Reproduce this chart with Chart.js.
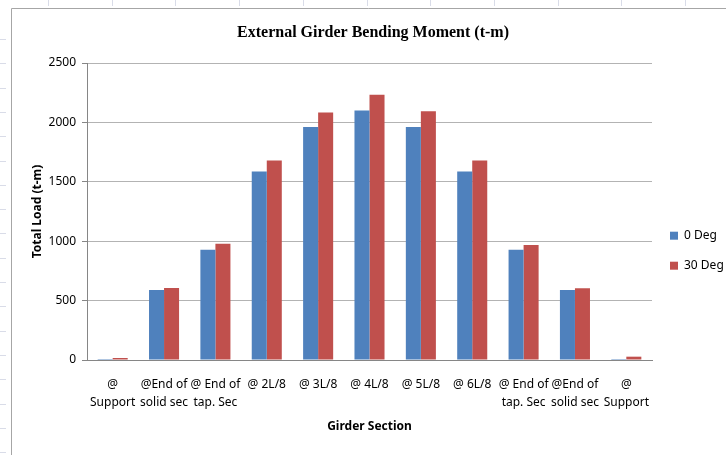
<!DOCTYPE html>
<html>
<head>
<meta charset="utf-8">
<script src="https://cdn.jsdelivr.net/npm/chart.js@4"></script>
<style>
    html, body { margin: 0; padding: 0; background: #fff; }
    #wrap { width: 726px; height: 455px; }
</style>
</head>
<body>
<div id="wrap"><canvas id="girder-chart" width="726" height="455"></canvas></div>
<script>
// データ ==========================================================
const SECTIONS = [
    ["@", "Support"],
    ["@End of", "solid sec"],
    ["@ End of", "tap. Sec"],
    "@ 2L/8",
    "@ 3L/8",
    "@ 4L/8",
    "@ 5L/8",
    "@ 6L/8",
    ["@ End of", "tap. Sec"],
    ["@End of", "solid sec"],
    ["@", "Support"],
];
const DEG_0  = [8, 590, 927, 1587, 1961, 2101, 1961, 1587, 927, 590, 8];
const DEG_30 = [17, 607, 978, 1680, 2084, 2233, 2093, 1680, 969, 604, 28];
const Y_TICKS = [0, 500, 1000, 1500, 2000, 2500];

const FONT = "'Noto Sans', 'DejaVu Sans', sans-serif";

// 枠線 (Excel のシート枠)
const framePlugin = {
    id: 'frame',
    beforeDraw(chart) {
        const ctx = chart.ctx;
        ctx.save();
        ctx.fillStyle = '#fff';
        ctx.fillRect(0, 0, chart.width, chart.height);
        // sheet grid marks
        ctx.strokeStyle = '#d9dce8';
        ctx.lineWidth = 1;
        for (let x = 48; x < chart.width; x += 63.7) {
            ctx.beginPath();
            ctx.moveTo(Math.round(x) + 0.5, 0);
            ctx.lineTo(Math.round(x) + 0.5, 6);
            ctx.stroke();
        }
        for (let y = 39; y < chart.height; y += 24.3) {
            ctx.beginPath();
            ctx.moveTo(0, Math.round(y) + 0.5);
            ctx.lineTo(6, Math.round(y) + 0.5);
            ctx.stroke();
        }
        ctx.strokeStyle = '#a6a6a6';
        ctx.beginPath();
        ctx.moveTo(11.5, chart.height);
        ctx.lineTo(11.5, 8.5);
        ctx.lineTo(chart.width, 8.5);
        ctx.stroke();
        ctx.restore();
    }
};

const data = {
    labels: SECTIONS,
    datasets: [
        {
            label: '0 Deg',
            backgroundColor: '#4F81BD',
            data: DEG_0,
        },
        {
            label: '30 Deg',
            backgroundColor: '#C0504D',
            data: DEG_30,
        },
    ],
};

const config = {
    type: 'bar',
    data: data,
    plugins: [framePlugin],
    options: {
        responsive: false,
        animation: false,
        layout: {
            padding: { left: 20, right: 0, top: 0, bottom: 18 },
        },
        datasets: {
            bar: {
                categoryPercentage: 0.585,
                barPercentage: 1.0,
                borderWidth: 0,
            }
        },
        plugins: {
            title: {
                display: true,
                text: 'External Girder Bending Moment (t-m)',
                color: '#000',
                font: { family: "'Liberation Serif', 'DejaVu Serif', serif", size: 16, weight: 'bold' },
                padding: { top: 23.4, bottom: 20.4 },
            },
            legend: {
                position: 'right',
                maxWidth: 74,
                title: {
                    display: true,
                    text: ' ',
                    font: { family: FONT, size: 12 },
                    padding: { top: 25, bottom: 25 },
                },
                labels: {
                    boxWidth: 8,
                    boxHeight: 8,
                    padding: 18,
                    color: '#000',
                    font: { family: FONT, size: 12 },
                },
            },
            tooltip: { enabled: false },
        },
        scales: {
            x: {
                grid: { display: false },
                border: { display: true, color: '#868686', width: 1 },
                ticks: {
                    color: '#000',
                    padding: 7,
                    maxRotation: 0,
                    autoSkip: false,
                    font: { family: FONT, size: 12, lineHeight: 1.55 },
                },
                title: {
                    display: true,
                    text: 'Girder Section',
                    color: '#000',
                    font: { family: FONT, size: 12, weight: 'bold' },
                    padding: { top: 0, bottom: 2.8 },
                },
                afterFit(scale) { scale.height = 77; },
            },
            y: {
                min: 0,
                max: 2500,
                afterBuildTicks(scale) {
                    scale.ticks = Y_TICKS.map(v => ({ value: v }));
                },
                grid: {
                    color: '#b3b3b3',
                    tickColor: '#868686',
                    tickLength: 5,
                },
                border: { display: true, color: '#868686', width: 1 },
                ticks: {
                    color: '#000',
                    padding: 6,
                    font: { family: FONT, size: 12 },
                    callback: function(value) {
                        return String(value);
                    },
                },
                title: {
                    display: true,
                    text: 'Total Load (t-m)',
                    color: '#000',
                    font: { family: FONT, size: 12, weight: 'bold' },
                    padding: { top: 10, bottom: 0 },
                },
                afterFit(scale) { scale.width = 67; },
            },
        },
    },
};

// 描画処理
const myChart = new Chart(
    document.getElementById("girder-chart"),
    config
);
</script>
</body>
</html>
